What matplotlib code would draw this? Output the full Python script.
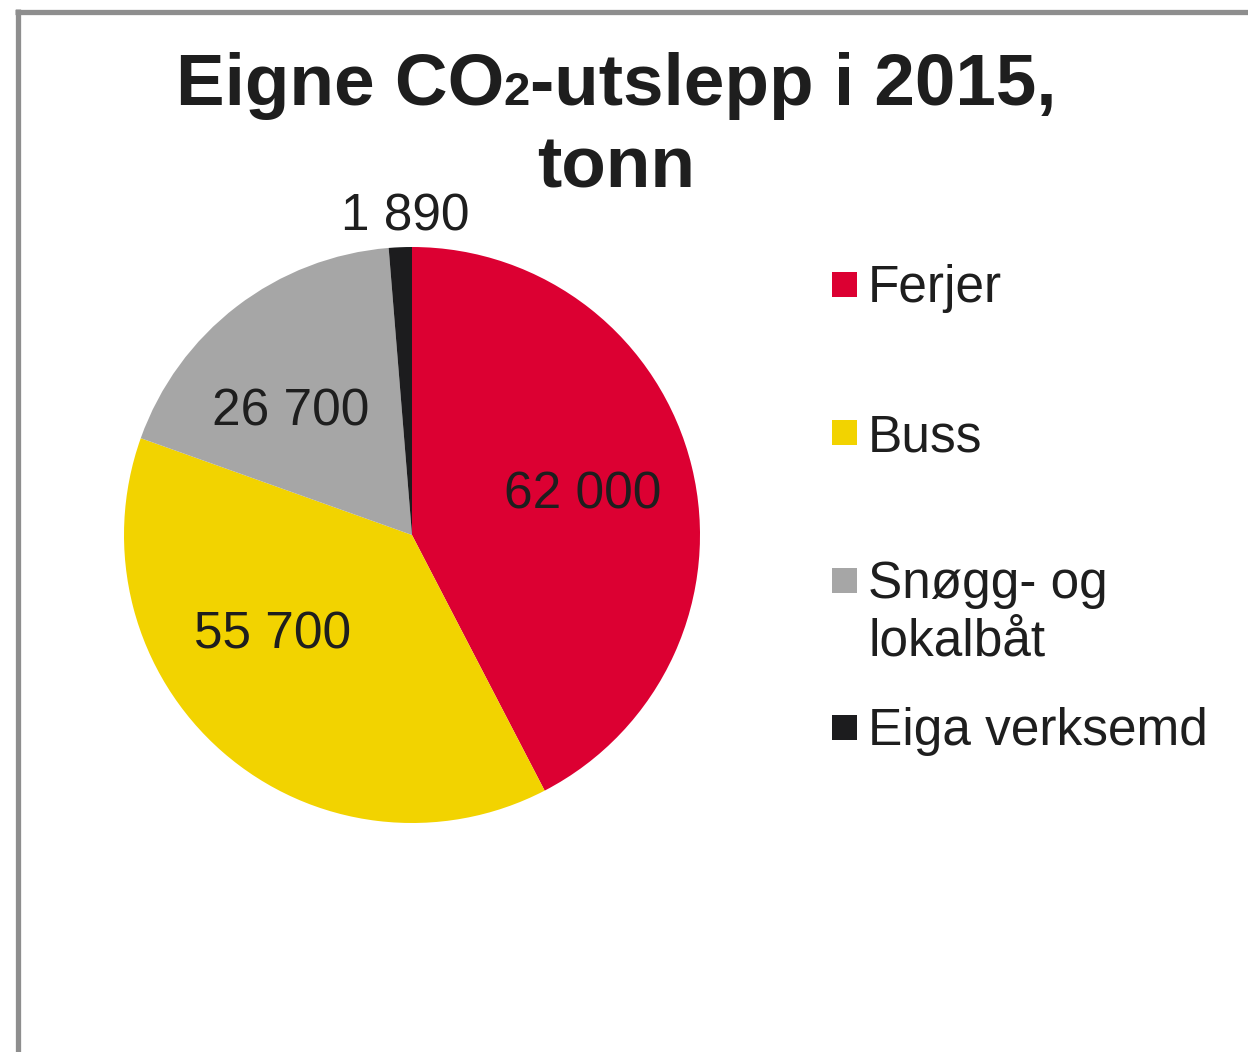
import matplotlib
matplotlib.use("Agg")
import matplotlib.pyplot as plt
from matplotlib.patches import Rectangle
from matplotlib.lines import Line2D

categories = ["Ferjer", "Buss", "Snøgg- og\nlokalbåt", "Eiga verksemd"]
values = [62000, 55700, 26700, 1890]
value_labels = ["62 000", "55 700", "26 700", "1 890"]
colors = ["#DC0032", "#F2D300", "#A6A6A6", "#1C1C1E"]

# label positions in pie-radius units (Excel best-fit placement)
label_pos = [(0.594, 0.092), (-0.483, -0.394), (-0.420, 0.380), (-0.024, 1.059)]

W, H = 1248, 1052
fig = plt.figure(figsize=(W / 100, H / 100), dpi=100)
fig.patch.set_facecolor("white")
plt.rcParams["font.family"] = ["Liberation Sans", "DejaVu Sans"]
txt_color = "#1E1E1E"

def fx(px):
    return px / W

def fy(py):
    return 1 - py / H

# frame (cut off at right and bottom)
fig.add_artist(Line2D([fx(15), fx(W + 10)], [fy(11.5), fy(11.5)], color="#8E8E8E", lw=3.8,
                      transform=fig.transFigure, solid_capstyle="butt"))
fig.add_artist(Line2D([fx(17.5), fx(17.5)], [fy(9), fy(H + 10)], color="#8E8E8E", lw=3.8,
                      transform=fig.transFigure, solid_capstyle="butt"))

# pie axes: center (412,535), radius 288 px
cx, cy, r = 412, 535, 288
ax = fig.add_axes([fx(cx - r), fy(cy + r), 2 * r / W, 2 * r / H])
wedges, _ = ax.pie(values, colors=colors, startangle=90, counterclock=False, radius=1,
                   wedgeprops=dict(linewidth=0))
ax.set_xlim(-1, 1)
ax.set_ylim(-1, 1)
ax.set_aspect("equal")
ax.axis("off")

for lab, (lx, ly) in zip(value_labels, label_pos):
    ax.text(lx, ly, lab, ha="center", va="baseline", fontsize=37, color=txt_color, clip_on=False)

# title with smaller "2"
fs_title = 52.5
parts = [("Eigne CO", fs_title), ("2", fs_title * 0.65), ("-utslepp i 2015,", fs_title)]
fig.canvas.draw()
renderer = fig.canvas.get_renderer()
widths = []
for s, f in parts:
    t = fig.text(0, 0, s, fontsize=f, fontweight="bold")
    bb = t.get_window_extent(renderer)
    widths.append(bb.width)
    t.remove()
total = sum(widths)
x0 = 616 - total / 2
for (s, f), w in zip(parts, widths):
    fig.text(fx(x0), fy(105), s, fontsize=f, fontweight="bold", color=txt_color,
             ha="left", va="baseline")
    x0 += w
fig.text(fx(616), fy(188), "tonn", fontsize=fs_title, fontweight="bold", color=txt_color,
         ha="center", va="baseline")

# legend
leg_baselines = [302, 451, 598, 745]
line_gap = 57
for cat, col, bl in zip(categories, colors, leg_baselines):
    mc = bl - 18
    fig.add_artist(Rectangle((fx(832), fy(mc + 12.5)), 25 / W, 25 / H, facecolor=col,
                             edgecolor="none", transform=fig.transFigure))
    for i, line in enumerate(cat.split("\n")):
        fig.text(fx(868), fy(bl + i * line_gap), line, fontsize=37, color=txt_color,
                 ha="left", va="baseline")

fig.savefig("out.png", dpi=100, facecolor="white")
